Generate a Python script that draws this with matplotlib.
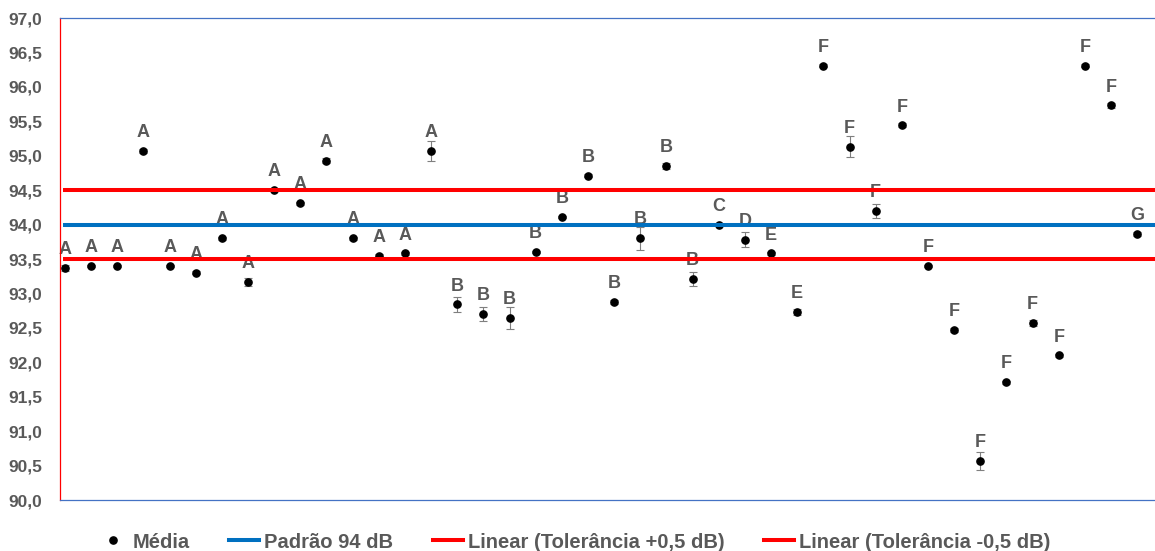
import numpy as np
import matplotlib
matplotlib.use("Agg")
import matplotlib.pyplot as plt
from matplotlib.lines import Line2D
from matplotlib.ticker import FuncFormatter

# mean values (dB)
media = [93.37, 93.40, 93.40, 95.07, 93.40, 93.30, 93.80, 93.17, 94.50, 94.31,
         94.93, 93.80, 93.55, 93.58, 95.07, 92.84, 92.70, 92.64, 93.60, 94.11,
         94.71, 92.87, 93.80, 94.85, 93.21, 94.00, 93.78, 93.58, 92.73, 96.31,
         95.13, 94.20, 95.44, 93.40, 92.47, 90.57, 91.71, 92.57, 92.10, 96.31,
         95.73, 93.86]
erro = [0.05, 0.02, 0.02, 0.03, 0.02, 0.02, 0.02, 0.06, 0.01, 0.02,
        0.04, 0.02, 0.02, 0.02, 0.15, 0.11, 0.10, 0.16, 0.02, 0.02,
        0.02, 0.03, 0.17, 0.04, 0.10, 0.01, 0.11, 0.02, 0.04, 0.02,
        0.15, 0.10, 0.03, 0.02, 0.03, 0.13, 0.02, 0.04, 0.02, 0.02,
        0.04, 0.03]
grupos = ["A"] * 15 + ["B"] * 10 + ["C", "D", "E", "E"] + ["F"] * 12 + ["G"]
padrao = 94.0
tol_sup = 94.5
tol_inf = 93.5

cinza = "#595959"
x = np.arange(len(media))

fig = plt.figure(figsize=(11.55, 5.51), dpi=100)
ax = fig.add_axes([60 / 1155, 1 - 500 / 551, 1 - 60 / 1155, (500 - 18) / 551])

ax.errorbar(x, media, yerr=erro, fmt="none", ecolor="#7f7f7f", elinewidth=0.8,
            capsize=3, capthick=0.8, zorder=2)
ax.plot(x, media, "o", color="black", markersize=5.2, zorder=3)

for xi, yi, g in zip(x, media, grupos):
    ax.annotate(g, (xi, yi), xytext=(0, 10), textcoords="offset points",
                ha="center", va="baseline", fontsize=13, fontweight="bold",
                color=cinza, family="Liberation Sans", zorder=1)

x0, x1 = -0.08, 41.7
ax.plot([x0, x1], [padrao, padrao], color="#0070C0", lw=2.9, zorder=4,
        solid_capstyle="butt")
ax.plot([x0, x1], [tol_sup, tol_sup], color="#FF0000", lw=2.9, zorder=4,
        solid_capstyle="butt")
ax.plot([x0, x1], [tol_inf, tol_inf], color="#FF0000", lw=2.9, zorder=4,
        solid_capstyle="butt")

ax.set_xlim(-0.19, 41.68)
ax.set_ylim(90, 97)
ax.set_yticks(np.arange(90, 97.01, 0.5))
ax.yaxis.set_major_formatter(FuncFormatter(lambda v, p: f"{v:.1f}".replace(".", ",")))
ax.tick_params(axis="y", length=0, pad=13, labelsize=12.5, labelcolor=cinza)
for lab in ax.get_yticklabels():
    lab.set_fontweight("bold")
    lab.set_family("Liberation Sans")
ax.set_xticks([])

ax.spines["right"].set_visible(False)
ax.spines["left"].set_color("#FF0000")
ax.spines["left"].set_linewidth(0.9)
ax.spines["top"].set_color("#4472C4")
ax.spines["top"].set_linewidth(0.9)
ax.spines["bottom"].set_color("#4472C4")
ax.spines["bottom"].set_linewidth(0.9)

handles = [
    Line2D([], [], ls="none", marker="o", color="black", markersize=5.2),
    Line2D([], [], color="#0070C0", lw=2.9),
    Line2D([], [], color="#FF0000", lw=2.9),
    Line2D([], [], color="#FF0000", lw=2.9),
]
labels = ["Média", "Padrão 94 dB", "Linear (Tolerância +0,5 dB)",
          "Linear (Tolerância -0,5 dB)"]
leg = fig.legend(handles, labels, loc="center", bbox_to_anchor=(0.497, 1 - 542 / 551),
                 ncol=4, frameon=False, handlelength=1.5, handletextpad=0.25,
                 columnspacing=1.95,
                 prop={"family": "Liberation Sans", "weight": "bold", "size": 14.5})
for t in leg.get_texts():
    t.set_color(cinza)

fig.savefig("out.png", dpi=100)
